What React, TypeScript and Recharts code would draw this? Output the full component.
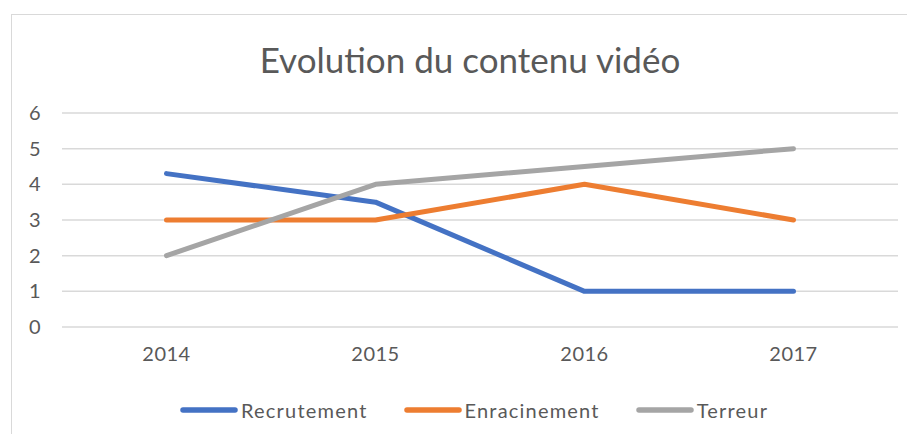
import React from "react";
import {
  LineChart,
  Line,
  XAxis,
  YAxis,
  CartesianGrid,
  Legend,
} from "recharts";

const years = ["2014", "2015", "2016", "2017"];
const recrutement = [4.3, 3.5, 1, 1];
const enracinement = [3, 3, 4, 3];
const terreur = [2, 4, 4.5, 5];
const yTicks = [0, 1, 2, 3, 4, 5, 6];

const series = [
  { key: "Recrutement", values: recrutement, color: "#4472C4" },
  { key: "Enracinement", values: enracinement, color: "#ED7D31" },
  { key: "Terreur", values: terreur, color: "#A5A5A5" },
];

const chartData = years.map((year, i) => ({
  year,
  Recrutement: recrutement[i],
  Enracinement: enracinement[i],
  Terreur: terreur[i],
}));

const FONT = "Lato, 'Liberation Sans', sans-serif";
const TEXT = "#595959";

// keep legend in series order (recharts sorts by name otherwise)
const renderLegend = () => (
  <div style={{ display: "flex", alignItems: "center", paddingLeft: 180 }}>
    {series.map((s, i) => (
      <div
        key={s.key}
        style={{ display: "flex", alignItems: "center", marginLeft: i === 0 ? 0 : 36 }}
      >
        <svg width={58} height={8}>
          <line x1={3} y1={4} x2={55} y2={4} stroke={s.color} strokeWidth={5.5} strokeLinecap="round" />
        </svg>
        <span
          style={{
            fontFamily: FONT,
            fontSize: 20,
            letterSpacing: 1.2,
            color: TEXT,
            marginLeft: 3,
          }}
        >
          {s.key}
        </span>
      </div>
    ))}
  </div>
);

const tickStyle = { fill: TEXT, fontSize: 20, fontFamily: FONT, letterSpacing: 0.5 };

const App: React.FC = () => {
  return (
    <div style={{ position: "relative", width: 915, height: 442, margin: -8, overflow: "hidden", background: "#fff" }}>
      <div
        style={{
          position: "absolute",
          left: 11,
          top: 14,
          width: 910,
          height: 440,
          border: "1px solid #d9d9d9",
        }}
      />
      <div
        style={{
          position: "absolute",
          top: 38,
          left: 0,
          width: 940,
          textAlign: "center",
          fontFamily: FONT,
          fontSize: 35,
          color: TEXT,
        }}
      >
        Evolution du contenu vidéo
      </div>
      <div style={{ position: "absolute", left: 0, top: 0 }}>
        <LineChart
          width={915}
          height={442}
          data={chartData}
          margin={{ top: 113, right: 17, bottom: 35, left: 22 }}
        >
          <CartesianGrid vertical={false} stroke="#d9d9d9" strokeWidth={1.5} />
          <XAxis
            dataKey="year"
            axisLine={false}
            tickLine={false}
            padding={{ left: 104.5, right: 104.5 }}
            tick={tickStyle}
            tickMargin={14}
            height={50}
          />
          <YAxis
            domain={[0, 6]}
            ticks={yTicks}
            axisLine={false}
            tickLine={false}
            width={40}
            tickMargin={15}
            tick={tickStyle}
          />
          <Legend
            verticalAlign="bottom"
            content={renderLegend}
            height={30}
            wrapperStyle={{ bottom: 14, left: 0, width: 915 }}
          />
          {series.map((s) => (
            <Line
              key={s.key}
              dataKey={s.key}
              stroke={s.color}
              strokeWidth={5}
              strokeLinecap="round"
              strokeLinejoin="round"
              dot={false}
              activeDot={false}
              type="linear"
              isAnimationActive={false}
            />
          ))}
        </LineChart>
      </div>
    </div>
  );
};

export default App;
